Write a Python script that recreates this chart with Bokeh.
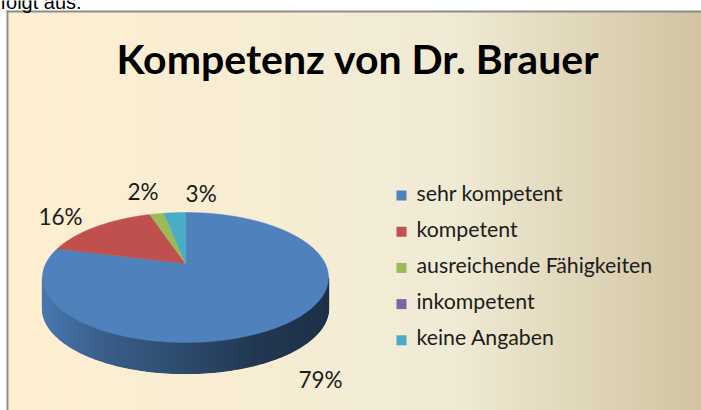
import numpy as np
from bokeh.plotting import figure
from bokeh.models import Range1d
from bokeh.embed import file_html
from bokeh.resources import INLINE
from bokeh.core.properties import value

# ---------------- data ----------------
intro_text = "folgt aus:"
title_text = "Kompetenz von Dr. Brauer"
categories = ["sehr kompetent", "kompetent", "ausreichende Fähigkeiten", "inkompetent", "keine Angaben"]
values = [79, 16, 2, 0, 3]
labels = ["79%", "16%", "2%", "", "3%"]
colors = ["#4F81BD", "#C0504D", "#9BBB59", "#8064A2", "#4BACC6"]

# ---------------- layout helpers (screen px -> data) ----------------
W, H = 701, 410
def X(sx):
    return sx
def Y(sy):
    return H - sy

p = figure(width=W, height=H, x_range=Range1d(0, W), y_range=Range1d(0, H),
           output_backend="svg", toolbar_location=None, min_border=0)
p.axis.visible = False
p.grid.visible = False
p.outline_line_color = None
p.background_fill_color = "white"
p.border_fill_color = "white"

def hex2rgb(h):
    h = h.lstrip("#")
    return np.array([int(h[i:i+2], 16) for i in (0, 2, 4)], dtype=float)

def rgb2hex(c):
    c = np.clip(np.round(c), 0, 255).astype(int)
    return "#%02x%02x%02x" % tuple(c)

# ---------------- background gradient (parchment) ----------------
stops_x = [8, 450, 705]
stops_c = [hex2rgb("#FFEFD1"), hex2rgb("#F0EBD5"), hex2rgb("#D1C39F")]
lefts, rights, fills = [], [], []
for sx in np.arange(8, 702, 2):
    c = np.array([np.interp(sx + 1, stops_x, [s[k] for s in stops_c]) for k in range(3)])
    lefts.append(X(sx)); rights.append(X(sx + 2.6)); fills.append(rgb2hex(c))
p.quad(left=lefts, right=rights, top=[Y(11)] * len(lefts), bottom=[Y(412)] * len(lefts),
       fill_color=fills, line_color=None)
# frame border
p.quad(left=[X(6), X(6)], right=[X(8), X(702)], top=[Y(10), Y(10)], bottom=[Y(412), Y(12)],
       fill_color="#8C8C8C", line_color=None)

# intro text (cut at the top of the page, as in the source image)
p.text(x=[X(0)], y=[Y(1)], text=[intro_text], text_font=value("Liberation Sans"),
       text_font_size="20px", text_align="left", text_baseline="alphabetic", text_color="#000000")

# ---------------- 3D pie geometry (perspective) ----------------
CX, YTOP, HGT, S, ALPHA, DEPTH = 185.0, 212.0, 130.0, 0.645, 229.7, 31.0

def proj(u, v):
    D = (1 + S) + v * (S - 1)
    return CX + ALPHA * u / D, YTOP + HGT * (1 + v) * S / D

total = float(sum(values))
bounds = [-90.0]
for v in values:
    bounds.append(bounds[-1] + 360.0 * v / total)

def slice_at(theta):
    t = (theta + 90.0) % 360.0 - 90.0
    for i in range(len(values)):
        if values[i] > 0 and bounds[i] <= t < bounds[i + 1]:
            return i
    return 0

# silhouette tangents
th = np.radians(np.linspace(-90, 270, 3601))
px, py = proj(np.cos(th), np.sin(th))
th_r = np.degrees(th[np.argmax(px)])
th_l = np.degrees(th[np.argmin(px)])
xmin, xmax = px.min(), px.max()

# side (front wall): dark underlay, then shaded strips
shade_t = [0.0, 0.2, 0.5, 0.75, 1.0]
shade_f = [0.93, 0.74, 0.57, 0.43, 0.38]
seg = np.linspace(th_r, th_l, 120)
fx, fy = proj(np.cos(np.radians(seg)), np.sin(np.radians(seg)))
under_x = [X(v) for v in fx] + [X(v) for v in fx[::-1]]
under_y = [Y(v) for v in fy] + [Y(v + DEPTH) for v in fy[::-1]]
p.patch(x=under_x, y=under_y, fill_color=rgb2hex(hex2rgb(colors[0]) * 0.55), line_color=None)
sxs, sys_, scol = [], [], []
for k in range(len(seg) - 1):
    x0, y0, x1, y1 = fx[k], fy[k], fx[k + 1], fy[k + 1]
    sxs.append([X(x0), X(x1), X(x1), X(x0)])
    sys_.append([Y(y0), Y(y1), Y(y1 + DEPTH), Y(y0 + DEPTH)])
    i = slice_at(0.5 * (seg[k] + seg[k + 1]))
    t = ((x0 + x1) / 2 - xmin) / (xmax - xmin)
    f = np.interp(t, shade_t, shade_f)
    scol.append(rgb2hex(hex2rgb(colors[i]) * f))
p.patches(xs=sxs, ys=sys_, fill_color=scol, line_color=scol, line_width=1.2)

# top faces
ax, ay = proj(0.0, 0.0)
txs, tys, tcol = [], [], []
for i, v in enumerate(values):
    if v <= 0:
        continue
    a = np.radians(np.linspace(bounds[i], bounds[i + 1], max(4, int(abs(bounds[i + 1] - bounds[i]) * 2))))
    ex, ey = proj(np.cos(a), np.sin(a))
    txs.append([X(ax)] + [X(e) for e in ex])
    tys.append([Y(ay)] + [Y(e) for e in ey])
    tcol.append(colors[i])
p.patches(xs=txs, ys=tys, fill_color=tcol, line_color=tcol, line_width=0.5)

# data labels
nudges = [(-8, 3), (-14, -1), (-7, -11), (0, 0), (29, -7)]
lx, ly, lt = [], [], []
for i, v in enumerate(values):
    if v <= 0:
        continue
    mid = np.radians(0.5 * (bounds[i] + bounds[i + 1]))
    u, w = 1.3 * np.cos(mid), 1.3 * np.sin(mid)
    qx, qy = proj(u, w)
    if w > 0:
        qy += DEPTH
    lx.append(X(qx + nudges[i][0])); ly.append(Y(qy + nudges[i][1])); lt.append(labels[i])
p.text(x=lx, y=ly, text=lt, text_font=value("Lato"), text_font_size="22.5px",
       text_align="center", text_baseline="alphabetic", text_color="#1c1c1c")

# title
p.text(x=[X(357.5)], y=[Y(58)], text=[title_text], text_font=value("Lato"),
       text_font_style="bold", text_font_size="41px", text_align="center",
       text_baseline="alphabetic", text_color="#000000")

# legend
leg_y0, leg_dy = 195.0, 36.2
ly_sq = [Y(leg_y0 + k * leg_dy) for k in range(len(categories))]
p.rect(x=[X(401)] * len(categories), y=ly_sq, width=10, height=10,
       fill_color=colors, line_color=None)
p.text(x=[X(416)] * len(categories), y=[Y(leg_y0 + k * leg_dy - 3) for k in range(len(categories))],
       text=categories, text_font=value("Lato"), text_font_size="21.3px",
       text_align="left", text_baseline="alphabetic", text_color="#1c1c1c")

open("out.html", "w").write(file_html(p, INLINE))
